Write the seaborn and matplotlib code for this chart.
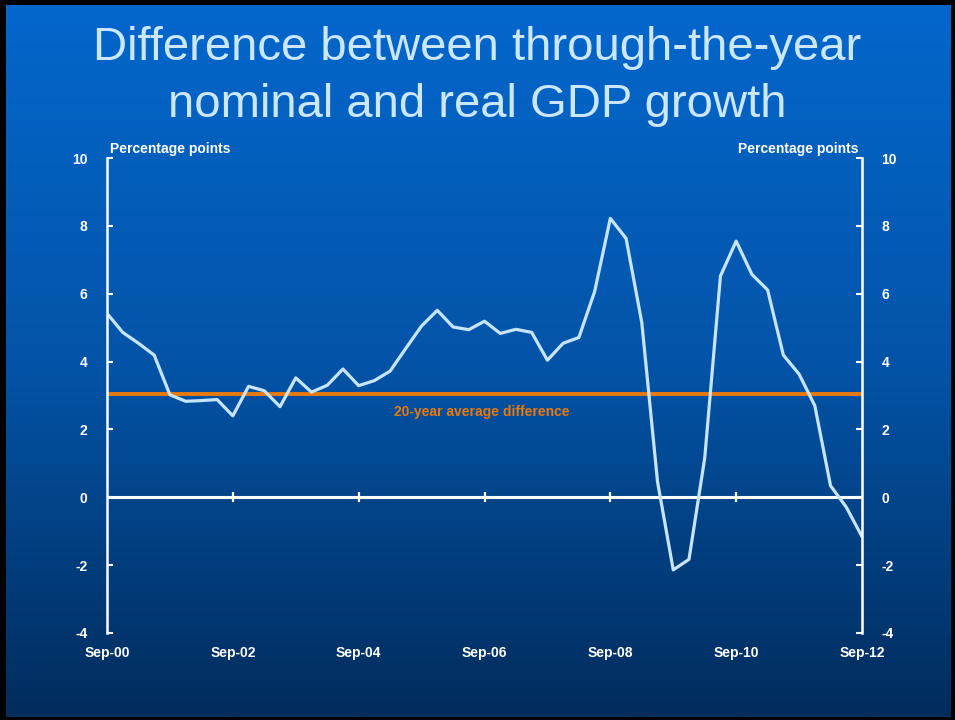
import numpy as np
import pandas as pd
import matplotlib
matplotlib.use("Agg")
import matplotlib.pyplot as plt
import seaborn as sns
from matplotlib.colors import LinearSegmentedColormap

# ---- data (quarterly, Sep-00 .. Sep-12) ----
quarter_index = list(range(49))
gdp_gap = [5.42, 4.86, 4.54, 4.19, 3.02, 2.83, 2.85, 2.88, 2.40, 3.27,
           3.14, 2.67, 3.52, 3.10, 3.30, 3.78, 3.29, 3.44, 3.72, 4.39,
           5.05, 5.51, 5.02, 4.94, 5.19, 4.83, 4.95, 4.86, 4.04, 4.54,
           4.71, 6.06, 8.22, 7.63, 5.15, 0.46, -2.14, -1.83, 1.15, 6.52,
           7.55, 6.57, 6.11, 4.19, 3.63, 2.70, 0.34, -0.29, -1.16]
avg_difference = 3.04
tick_positions = [0, 8, 16, 24, 32, 40, 48]
tick_labels = ["Sep-00", "Sep-02", "Sep-04", "Sep-06", "Sep-08", "Sep-10", "Sep-12"]
y_ticks = [-4, -2, 0, 2, 4, 6, 8, 10]

df = pd.DataFrame({"q": quarter_index, "diff": gdp_gap})

sns.set_theme(style="white")
plt.rcParams["font.family"] = ["Liberation Sans", "DejaVu Sans"]
plt.rcParams["axes.unicode_minus"] = False

W, H = 955, 720
fig = plt.figure(figsize=(W / 100, H / 100), dpi=100, facecolor="black")

# gradient background inside a thin black frame
bg = fig.add_axes([6 / W, 3 / H, (950 - 6) / W, (716 - 4) / H], zorder=-10)
cmap = LinearSegmentedColormap.from_list("bg", ["#0467cc", "#0354a8", "#012c5c"])
grad = np.linspace(0, 1, 256).reshape(-1, 1)
bg.imshow(grad, aspect="auto", cmap=cmap, extent=[0, 1, 0, 1], origin="upper")
bg.axis("off")

ax = fig.add_axes([107 / W, 1 - 633 / H, (862 - 107) / W, (633 - 158) / H])
ax.set_facecolor("none")

sns.lineplot(data=df, x="q", y="diff", ax=ax, color="#c6e4fb", linewidth=2.3)
ax.axhline(avg_difference, color="#e8790c", linewidth=2.8, zorder=1)
ax.axhline(0, color="white", linewidth=2.2, zorder=1)
# x ticks sitting on the zero line
ax.plot(tick_positions[1:-1], [0] * (len(tick_positions) - 2), linestyle="none",
        marker="|", markersize=7, markeredgewidth=1.6, color="white", zorder=2)

ax.text(0.5 * (tick_positions[0] + tick_positions[-1]) - 0.2, avg_difference - 0.52,
        "20-year average difference", color="#e8790c", fontsize=10,
        fontweight="bold", ha="center", va="center")

ax.set_xlim(tick_positions[0], tick_positions[-1])
ax.set_ylim(-4, 10)
ax.set_xticks(tick_positions)
ax.set_xticklabels(tick_labels)
ax.set_yticks(y_ticks)
ax.set_xlabel("")
ax.set_ylabel("")

for s in ["top", "bottom"]:
    ax.spines[s].set_visible(False)
for s in ["left", "right"]:
    ax.spines[s].set_visible(True)
    ax.spines[s].set_color("white")
    ax.spines[s].set_linewidth(1.8)

ax.tick_params(axis="x", length=0, pad=9, labelsize=10, labelcolor="white")
ax.tick_params(axis="y", which="both", direction="in", length=4, width=1.5,
               color="white", labelsize=10, labelcolor="white",
               left=True, right=True, labelleft=True, labelright=True, pad=14)
for lab in ax.get_yticklabels() + ax.get_xticklabels():
    lab.set_fontweight("bold")
for t in ax.yaxis.get_major_ticks():
    t.label2.set_fontweight("bold")
ax.grid(False)

fig.text(110 / W, 1 - 149 / H, "Percentage points", color="white", fontsize=10,
         fontweight="bold", ha="left", va="center")
fig.text(858 / W, 1 - 149 / H, "Percentage points", color="white", fontsize=10,
         fontweight="bold", ha="right", va="center")

title_color = "#cbe6ff"
fig.text(0.5, 1 - 60 / H, "Difference between through-the-year", color=title_color,
         fontsize=34, ha="center", va="baseline")
fig.text(0.5, 1 - 117 / H, "nominal and real GDP growth", color=title_color,
         fontsize=34, ha="center", va="baseline")

fig.savefig("out.png", dpi=100, facecolor=fig.get_facecolor())
